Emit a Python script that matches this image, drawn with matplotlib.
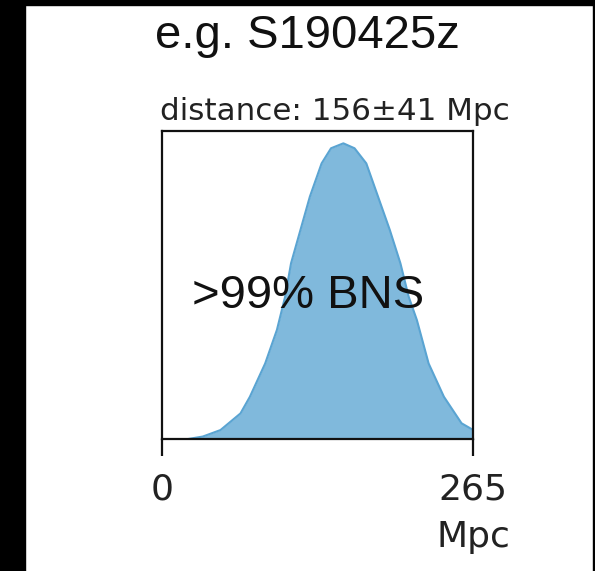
import matplotlib
matplotlib.use("Agg")
import matplotlib.pyplot as plt
from matplotlib.patches import Rectangle

# distance posterior (height as fraction of the panel)
dist_mpc = [0, 21, 35, 50, 67, 75, 88, 98, 105, 110, 118, 126, 136, 144, 154.5, 164, 174, 184,
            194, 203, 210, 217, 227, 240, 255, 265]
density = [0, 0, 0.009, 0.03, 0.084, 0.138, 0.246, 0.355, 0.463, 0.571, 0.679, 0.787, 0.895, 0.944,
           0.96, 0.944, 0.895, 0.787, 0.679, 0.571, 0.463, 0.387, 0.246, 0.138, 0.052, 0.03]
tick_pos = [0, 265]
tick_labels = ["0", "265\nMpc"]
title = "distance: 156\u00b141 Mpc"
event = "e.g. S190425z"
note = ">99% BNS"

W, H = 595, 571
fig = plt.figure(figsize=(W / 100, H / 100), dpi=100)
fig.patch.set_facecolor("white")

# black screen border around the slide crop
fig.patches.append(Rectangle((0, 0), 25 / W, 1, transform=fig.transFigure, color="black", zorder=0))
fig.patches.append(Rectangle((0, 1 - 5 / H), 1, 5 / H, transform=fig.transFigure, color="black", zorder=0))
fig.patches.append(Rectangle((593 / W, 0), 2 / W, 1, transform=fig.transFigure, color="black", zorder=0))

ax = fig.add_axes([161.7 / W, (H - 439.3) / H, 311.6 / W, 308.3 / H])
ax.fill_between(dist_mpc, density, color="#80b9dc", lw=0)
ax.plot(dist_mpc, density, color="#5aa4d2", lw=1.5, solid_joinstyle="round")
ax.set_xlim(0, 265)
ax.set_ylim(0, 1)

for s in ax.spines.values():
    s.set_linewidth(1.6)
    s.set_color("#111111")
ax.set_yticks([])
ax.set_xticks(tick_pos)
ax.set_xticklabels(tick_labels, fontsize=26, color="#222222", linespacing=1.5)
ax.tick_params(axis="x", length=12, width=1.6, pad=12, color="#111111")
ax.set_title(title, loc="left", fontsize=22.3, color="#222222", pad=8, x=-0.005)

slide_font = ["Liberation Sans", "DejaVu Sans"]
fig.text(308.5 / W, (H - 308) / H, note, ha="center", va="baseline",
         fontsize=34, family=slide_font, color="#111111")
fig.text(307 / W, (H - 48) / H, event, ha="center", va="baseline",
         fontsize=34, family=slide_font, color="#111111")

fig.savefig("out.png", dpi=100)
